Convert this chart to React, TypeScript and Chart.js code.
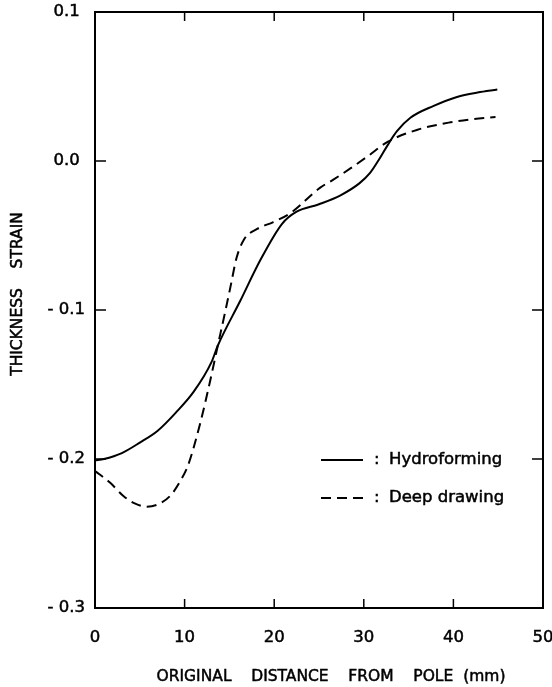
import React, { useEffect, useRef } from "react";
import { Chart, registerables } from "chart.js";

Chart.register(...registerables);

// ---- data ----
const hydroX = [0, 1, 3, 5, 7, 9, 11, 13, 13.7, 16.2, 18.5, 20.9, 22.5, 25, 27.4, 29.5, 30.7, 31.7, 32.7, 33.7, 35.2, 37.8, 40.4, 42.7, 44.9];
const hydroY = [-0.201, -0.2, -0.196, -0.189, -0.181, -0.169, -0.155, -0.135, -0.124, -0.094, -0.066, -0.042, -0.034, -0.029, -0.023, -0.015, -0.008, 0.001, 0.011, 0.02, 0.029, 0.037, 0.043, 0.046, 0.048];

const deepX = [0, 1.7, 3.2, 4.5, 5.8, 7.2, 8.5, 9.5, 10.4, 11.7, 12.8, 13.7, 14.5, 15.1, 15.8, 16.6, 18.1, 19.9, 21.8, 25.1, 26.6, 28.5, 30.4, 32.7, 36, 39.7, 42, 44.7];
const deepY = [-0.208, -0.216, -0.225, -0.23, -0.232, -0.23, -0.224, -0.215, -0.204, -0.177, -0.149, -0.124, -0.102, -0.085, -0.065, -0.053, -0.0456, -0.041, -0.035, -0.018, -0.0125, -0.005, 0.003, 0.013, 0.021, 0.026, 0.028, 0.0295];

const seriesLabels = ["Hydroforming", "Deep drawing"];
const xTicks = [0, 10, 20, 30, 40, 50];
const yTicks = [0.1, 0.0, -0.1, -0.2, -0.3];
const yTickLabels = ["0.1 ", "0.0 ", "- 0.1", "- 0.2", "- 0.3"];
const xTitle = "ORIGINAL    DISTANCE    FROM    POLE  (mm)";
const yTitle = "THICKNESS    STRAIN";

const FONT = "DejaVu Sans";
const TEXT_STROKE = 0.5;

const zip = (xs: number[], ys: number[]) => xs.map((x, i) => ({ x, y: ys[i] }));

const drawText = (ctx: CanvasRenderingContext2D, t: string, x: number, y: number) => {
  ctx.fillText(t, x, y);
  ctx.strokeText(t, x, y);
};

const framePlugin = {
  id: "frame",
  afterDraw(chart: any) {
    const { ctx, chartArea: a, scales } = chart;
    const xs = scales.x;
    const ys = scales.y;
    ctx.save();
    ctx.strokeStyle = "#000";
    ctx.lineWidth = 2;
    ctx.strokeRect(a.left, a.top, a.right - a.left, a.bottom - a.top);
    ctx.lineWidth = 1.5;
    ctx.beginPath();
    xTicks.slice(1, -1).forEach((v) => {
      const px = xs.getPixelForValue(v);
      ctx.moveTo(px, a.top);
      ctx.lineTo(px, a.top + 9);
      ctx.moveTo(px, a.bottom);
      ctx.lineTo(px, a.bottom - 9);
    });
    yTicks.slice(1, -1).forEach((v) => {
      const py = ys.getPixelForValue(v);
      ctx.moveTo(a.left, py);
      ctx.lineTo(a.left + 11, py);
      ctx.moveTo(a.right, py);
      ctx.lineTo(a.right - 11, py);
    });
    ctx.stroke();

    // titles
    ctx.fillStyle = "#000";
    ctx.lineWidth = TEXT_STROKE;
    ctx.font = `15.5px ${FONT}`;
    ctx.textAlign = "center";
    ctx.textBaseline = "middle";
    drawText(ctx, xTitle, 331, 677);
    ctx.save();
    ctx.translate(18, 294);
    ctx.rotate(-Math.PI / 2);
    drawText(ctx, yTitle, 0, 0);
    ctx.restore();

    // legend
    const ds = chart.data.datasets;
    const rows = [460, 498];
    ctx.font = `16.5px ${FONT}`;
    ctx.textAlign = "left";
    rows.forEach((ry, i) => {
      ctx.save();
      ctx.lineWidth = 2;
      ctx.setLineDash(ds[i].borderDash || []);
      ctx.beginPath();
      ctx.moveTo(321, ry);
      ctx.lineTo(363, ry);
      ctx.stroke();
      ctx.restore();
      drawText(ctx, ":", 374, ry);
      drawText(ctx, ds[i].label, 389, ry);
    });
    ctx.restore();
  },
};

export default function App() {
  const ref = useRef<HTMLCanvasElement | null>(null);
  useEffect(() => {
    if (!ref.current) return;
    const chart = new Chart(ref.current, {
      type: "line",
      data: {
        datasets: [
          {
            label: seriesLabels[0],
            data: zip(hydroX, hydroY),
            borderColor: "#000",
            borderWidth: 2,
            pointRadius: 0,
            fill: false,
            cubicInterpolationMode: "monotone",
          },
          {
            label: seriesLabels[1],
            data: zip(deepX, deepY),
            borderColor: "#000",
            borderWidth: 2,
            borderDash: [10, 6],
            pointRadius: 0,
            fill: false,
            cubicInterpolationMode: "monotone",
          },
        ],
      },
      plugins: [framePlugin],
      options: {
        animation: false,
        responsive: false,
        devicePixelRatio: 1,
        layout: { padding: { top: 12, right: 9, left: 0, bottom: 0 } },
        plugins: { legend: { display: false }, tooltip: { enabled: false } },
        scales: {
          x: {
            type: "linear",
            min: 0,
            max: 50,
            grid: { display: false, drawTicks: false },
            border: { display: false },
            afterFit: (s: any) => {
              s.height = 79;
              s.paddingLeft = 0;
              s.paddingRight = 0;
            },
            afterBuildTicks: (s: any) => {
              s.ticks = xTicks.map((v) => ({ value: v }));
            },
            ticks: {
              color: "#000",
              font: { family: FONT, size: 16.5 },
              textStrokeColor: "#000",
              textStrokeWidth: TEXT_STROKE,
              padding: 20,
              maxRotation: 0,
              autoSkip: false,
              callback: (v: any) => String(v),
            },
          },
          y: {
            type: "linear",
            min: -0.3,
            max: 0.1,
            grid: { display: false, drawTicks: false },
            border: { display: false },
            afterFit: (s: any) => {
              s.width = 95;
              s.paddingTop = 0;
              s.paddingBottom = 0;
            },
            afterBuildTicks: (s: any) => {
              s.ticks = yTicks.map((v) => ({ value: v }));
            },
            ticks: {
              color: "#000",
              font: { family: FONT, size: 16.5 },
              textStrokeColor: "#000",
              textStrokeWidth: TEXT_STROKE,
              padding: 10,
              autoSkip: false,
              callback: (v: any) => {
                const i = yTicks.findIndex((t) => Math.abs(t - v) < 1e-9);
                return i >= 0 ? yTickLabels[i] : "";
              },
            },
          },
        },
      },
    } as any);
    return () => chart.destroy();
  }, []);
  return (
    <div style={{ position: "absolute", left: 0, top: 0, width: 552, height: 687, background: "#fff" }}>
      <canvas ref={ref} width={552} height={687} style={{ width: 552, height: 687, display: "block" }} />
    </div>
  );
}
